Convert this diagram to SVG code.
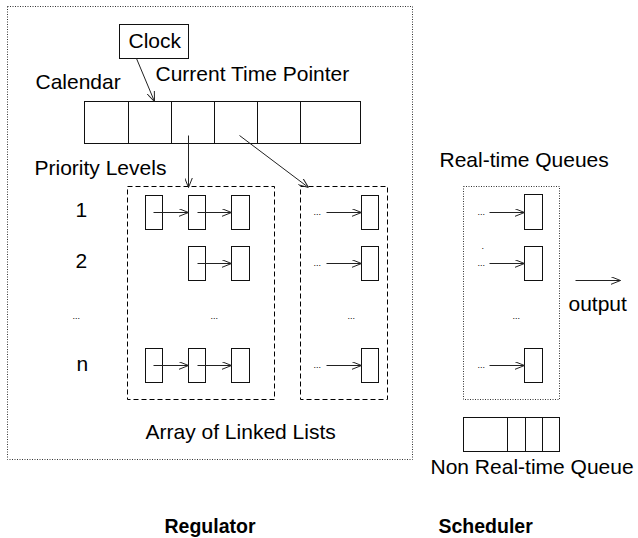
<svg xmlns="http://www.w3.org/2000/svg" width="638" height="538" viewBox="0 0 638 538">
<style>
text{font-family:"Liberation Sans",Arial,sans-serif;fill:#000}
.t{font-size:21px}
.b{font-size:19.5px;font-weight:bold}
.d{font-size:9px}
.box{fill:none;stroke:#111;stroke-width:1}
.dot{fill:none;stroke:#333;stroke-width:1;stroke-dasharray:1 1.5}
.dash{fill:none;stroke:#000;stroke-width:1;stroke-dasharray:5 3}
.ln{fill:none;stroke:#222;stroke-width:1}
</style>
<defs>
<marker id="ah" viewBox="0 0 10 8" refX="10" refY="4" markerWidth="10" markerHeight="8" markerUnits="userSpaceOnUse" orient="auto">
<path d="M0,0 L10,4 L0,8" fill="none" stroke="#222" stroke-width="1"/>
</marker>
</defs>
<g transform="translate(0.5 0.5)">
<g id="regulator-frame"><rect class="dot" x="7" y="6" width="405" height="453"/></g>

<g id="clock"><rect class="box" x="119" y="24" width="69" height="34"/><text class="t" x="128" y="47">Clock</text></g>
<g id="calendar-label"><text class="t" x="35" y="88">Calendar</text></g>
<g id="pointer-label"><text class="t" x="155" y="80">Current Time Pointer</text></g>
<g id="calendar">
<rect class="box" x="84" y="101" width="276" height="42"/>
<path class="box" d="M128,101V143M171,101V143M214,101V143M257,101V143M300,101V143"/>
</g>
<g id="priority-label"><text class="t" x="34" y="174">Priority Levels</text></g>
<g id="levels">
<text class="t" x="75" y="216">1</text>
<text class="t" x="75" y="267">2</text>
<text class="d" x="72" y="318">...</text>
<text class="t" x="76" y="370">n</text>
</g>

<g id="list-a">
<rect class="dash" x="127" y="186" width="147" height="213"/>
<rect class="box" x="145" y="195" width="17" height="34"/>
<rect class="box" x="188" y="195" width="17" height="34"/>
<rect class="box" x="231" y="195" width="18" height="34"/>
<rect class="box" x="188" y="246" width="17" height="34"/>
<rect class="box" x="231" y="246" width="18" height="34"/>
<text class="d" x="210" y="318">...</text>
<rect class="box" x="145" y="348" width="17" height="34"/>
<rect class="box" x="188" y="348" width="17" height="34"/>
<rect class="box" x="231" y="348" width="18" height="34"/>
</g>
<g id="list-b">
<rect class="dash" x="300" y="186" width="87" height="213"/>
<text class="d" x="313" y="214">...</text>
<rect class="box" x="361" y="195" width="17" height="34"/>
<text class="d" x="313" y="265">...</text>
<rect class="box" x="361" y="246" width="17" height="34"/>
<text class="d" x="347" y="318">...</text>
<text class="d" x="313" y="367">...</text>
<rect class="box" x="361" y="348" width="17" height="34"/>
</g>
<g id="array-label"><text class="t" x="145" y="438">Array of Linked Lists</text></g>

<g id="rt-label"><text class="t" x="439" y="166">Real-time Queues</text></g>
<g id="rt-queues">
<rect class="dot" x="463" y="186" width="96" height="213"/>
<text class="d" x="477" y="214">...</text>
<rect class="box" x="524" y="194" width="18" height="35"/>
<text class="d" x="481" y="248">.</text>
<text class="d" x="477" y="265">...</text>
<rect class="box" x="524" y="246" width="18" height="34"/>
<text class="d" x="512" y="318">...</text>
<text class="d" x="477" y="367">...</text>
<rect class="box" x="524" y="348" width="18" height="34"/>
</g>
<g id="output-label"><text class="t" x="568" y="310">output</text></g>
<g id="nrt-queue">
<rect class="box" x="463" y="417" width="96" height="34"/>
<path class="box" d="M507,417V451M525,417V451M542,417V451"/>
<text class="t" x="430" y="473">Non Real-time Queue</text>
</g>

<g id="titles">
<text class="b" x="164" y="532">Regulator</text>
<text class="b" x="438" y="532">Scheduler</text>
</g>

<g id="connectors">
<path class="ln" d="M136,58L154,101" marker-end="url(#ah)"/>
<path class="ln" d="M188,135V187" marker-end="url(#ah)"/>
<path class="ln" d="M239,135L308,187" marker-end="url(#ah)"/>
<path class="ln" d="M153,212H188" marker-end="url(#ah)"/>
<path class="ln" d="M197,212H231" marker-end="url(#ah)"/>
<path class="ln" d="M197,263H231" marker-end="url(#ah)"/>
<path class="ln" d="M153,365H188" marker-end="url(#ah)"/>
<path class="ln" d="M197,365H231" marker-end="url(#ah)"/>
<path class="ln" d="M326,212H361" marker-end="url(#ah)"/>
<path class="ln" d="M326,263H361" marker-end="url(#ah)"/>
<path class="ln" d="M326,365H361" marker-end="url(#ah)"/>
<path class="ln" d="M489,212H524" marker-end="url(#ah)"/>
<path class="ln" d="M489,263H524" marker-end="url(#ah)"/>
<path class="ln" d="M489,365H524" marker-end="url(#ah)"/>
<path class="ln" d="M575,280H620" stroke-width="1.5" marker-end="url(#ah)"/>
</g>
</g>
</svg>
